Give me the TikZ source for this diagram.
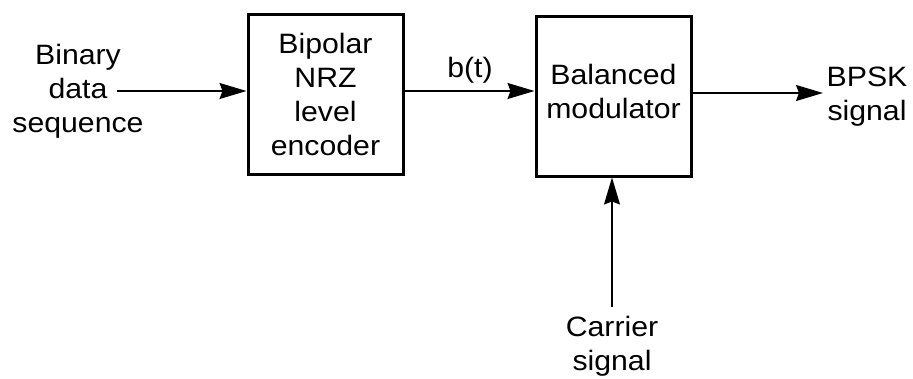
\documentclass[tikz,border=0pt]{standalone}
\usepackage{fontspec}
\setmainfont{Liberation Sans}[FakeStretch=1.08]
\usetikzlibrary{arrows.meta}
\begin{document}
\begin{tikzpicture}[x=1pt,y=-1pt,
  lbl/.style={font=\fontsize{28}{34}\selectfont, align=center, inner sep=0pt},
  blk/.style={draw, line width=3pt, minimum width=155pt, minimum height=160pt, inner sep=0pt},
  conn/.style={line width=1.4pt, -{Stealth[length=27pt,width=16pt,inset=3pt]}}]
\useasboundingbox (0,0) rectangle (913,378);
\node[blk] (enc) at (325.5,94) {};
\node[lbl] (enctxt) at (325.5,94) {Bipolar\\NRZ\\level\\encoder};
\node[blk] (mod) at (613.5,96) {};
\node[lbl] (modtxt) at (613.5,91) {Balanced\\modulator};
\node[lbl] (bin) at (78,91) {Binary\\data\\sequence};
\coordinate (inst) at (117,91);
\node[lbl] (bt) at (470,70) {b(t)};
\node[lbl] (bpsk) at (867,97) {BPSK\\signal};
\coordinate (outend) at (823,93);
\node[lbl] (car) at (612,346) {Carrier\\signal};
\coordinate (carst) at (612,307);
\draw[conn] (inst) -- (enc.west |- inst);
\draw[conn] (enc.east |- inst) -- (mod.west |- inst);
\draw[conn] (mod.east |- outend) -- (outend);
\draw[conn] (carst) -- (carst |- mod.south);
\end{tikzpicture}
\end{document}
